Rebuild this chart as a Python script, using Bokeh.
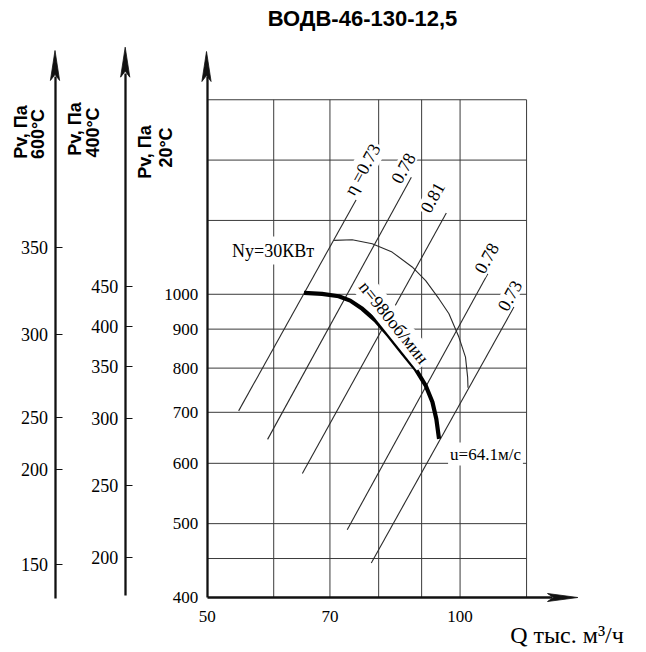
import math
from bokeh.plotting import figure
from bokeh.models import Range1d, LinearAxis, FixedTicker, Label
from bokeh.embed import file_html
from bokeh.resources import INLINE

# ---------------- data ----------------
title_text = "ВОДВ-46-130-12,5"
q_ticks = [50, 70, 100]
p_ticks = [400, 500, 600, 700, 800, 900, 1000]
grid_q = [60, 70, 80, 90, 100, 120]
grid_p = [450, 500, 600, 700, 800, 900, 1000, 1250, 1500, 1800]
q_min, q_max = 50, 120
p_min, p_max = 400, 1800

# pressure curve n = 980 rpm (Q thousand m3/h, Pv Pa at 20 C)
curve_q = [65.2, 68.5, 71.7, 74.0, 76.5, 79.3, 82.2, 85.3, 88.5, 91.0, 92.7, 93.7, 94.4]
curve_p = [1004, 1001, 994, 981, 957, 924, 883, 839, 798, 759, 722, 686, 646]

# power line Ny = 30 kW
power_q = [70.8, 74.4, 78.6, 83.0, 87.7, 91.0, 94.4, 97.0, 99.7, 101.5, 102.1, 102.2]
power_p = [1177, 1179, 1165, 1136, 1086, 1042, 986, 943, 878, 827, 778, 754]

# efficiency lines
eta_labels = ["η =0.73", "0.78", "0.81", "0.78", "0.73"]
eta_q_lo = [54.5, 59.0, 64.9, 73.4, 78.4]
eta_p_lo = [703, 645, 582, 491, 444]
eta_q_hi = [81.0, 87.5, 96.3, 107.9, 115.9]
eta_p_hi = [1541, 1424, 1278, 1064, 962]

# auxiliary temperature scales: label and the 20 C pressure where it sits
t600_labels = ["150", "200", "250", "300", "350"]
t600_at_p20 = [442, 589, 689, 886, 1152]
t400_labels = ["200", "250", "300", "350", "400", "450"]
t400_at_p20 = [451, 561, 687, 804, 908, 1024]

# ---------------- layout helpers ----------------
W, H = 646, 652
PX_DEC_Q = 840.0
PX_DEC_P = 762.0
Q0_X = 206.7
P0_Y = 597.0


def q_at(x):
    return 50 * 10 ** ((x - Q0_X) / PX_DEC_Q)


def p_at(y):
    return 400 * 10 ** ((P0_Y - y) / PX_DEC_P)


p = figure(width=W, height=H, x_axis_type="log", y_axis_type="log",
           x_range=Range1d(q_at(0), q_at(W)),
           y_range=Range1d(p_at(H), p_at(0)),
           x_axis_location=None, y_axis_location=None,
           toolbar_location=None, output_backend="svg", title=None,
           min_border=0, outline_line_color=None)
p.min_border_left = p.min_border_right = 0
p.min_border_top = p.min_border_bottom = 0
p.grid.visible = False

LINE = "#2a2a2a"

# grid
p.segment(x0=grid_q, y0=[p_min] * len(grid_q), x1=grid_q, y1=[p_max] * len(grid_q),
          line_color="#3a3a3a", line_width=1)
p.segment(x0=[q_min] * len(grid_p), y0=grid_p, x1=[q_max] * len(grid_p), y1=grid_p,
          line_color="#3a3a3a", line_width=1)

# efficiency lines
p.segment(x0=eta_q_lo, y0=eta_p_lo, x1=eta_q_hi, y1=eta_p_hi,
          line_color=LINE, line_width=1.1)

# power line and pressure curve
p.line(power_q, power_p, line_color=LINE, line_width=1.1, line_join="round")
p.line(curve_q, curve_p, line_color="black", line_width=4.2, line_join="round")


def make_axis(loc, bounds, ticks, size, standoff, tick_in=0, overrides=None, below=False):
    ax = LinearAxis(fixed_location=loc, bounds=bounds, ticker=FixedTicker(ticks=ticks, minor_ticks=[]),
                    axis_line_width=2.3, axis_line_color="#111",
                    major_tick_in=tick_in, major_tick_out=0, minor_tick_in=0, minor_tick_out=0,
                    major_tick_line_width=1.2, major_tick_line_color="#111",
                    major_label_standoff=standoff,
                    major_label_text_font="Liberation Serif",
                    major_label_text_font_size=f"{size}px",
                    major_label_text_color="black")
    if overrides:
        ax.major_label_overrides = overrides
    p.add_layout(ax, "below" if below else "left")
    return ax


# main axes
make_axis(p_min, (q_min, q_at(552)), q_ticks, 17, 13, below=True)
make_axis(q_min, (p_min, p_at(76)), p_ticks, 17, 9)
# auxiliary temperature axes
make_axis(q_at(54.5), (p_at(598), p_at(76)), t600_at_p20, 18, 7, tick_in=7,
          overrides=dict(zip(t600_at_p20, t600_labels)))
make_axis(q_at(124.7), (p_at(595), p_at(73)), t400_at_p20, 18, 7, tick_in=7,
          overrides=dict(zip(t400_at_p20, t400_labels)))

# arrow heads
heads_x, heads_y = [], []
for xa, tip in [(54.5, 50), (124.7, 46.7), (206.0, 51)]:
    heads_x.append([q_at(xa - 4.6), q_at(xa), q_at(xa + 4.6), q_at(xa)])
    heads_y.append([p_at(tip + 30), p_at(tip), p_at(tip + 30), p_at(tip + 24)])
heads_x.append([q_at(547), q_at(577.3), q_at(547), q_at(553)])
heads_y.append([p_at(593), p_at(597), p_at(601), p_at(597)])
p.patches(heads_x, heads_y, fill_color="#111", line_color="#111", line_width=0.8)


def add_text(text, x, y, size, font="Liberation Serif", bold=False, angle=0.0,
             align="center", bg=False, pad=0):
    lab = Label(x=q_at(x), y=p_at(y), text=text, text_font=font,
                text_font_size=f"{size}px", text_font_style="bold" if bold else "normal",
                text_align=align, text_baseline="middle", angle=angle, text_color="black")
    if bg:
        lab.background_fill_color = "white"
        lab.padding = pad
    p.add_layout(lab)


# title
add_text(title_text, 362, 18, 22, font="Liberation Sans", bold=True)

# axis titles
v = math.pi / 2
add_text("Pv, Па", 20, 131.5, 18, font="Liberation Sans", bold=True, angle=v)
add_text("600°C", 37, 133.5, 18, font="Liberation Sans", bold=True, angle=v)
add_text("Pv, Па", 74.5, 128.5, 18, font="Liberation Sans", bold=True, angle=v)
add_text("400°C", 92.5, 132, 18, font="Liberation Sans", bold=True, angle=v)
add_text("Pv, Па", 144.5, 151.5, 18, font="Liberation Sans", bold=True, angle=v)
add_text("20°C", 165, 147, 18, font="Liberation Sans", bold=True, angle=v)

add_text("Q тыс. м³/ч", 566.5, 634, 24)

# in-plot labels
eta_angle = math.atan(1.806)
eta_pos = [(362, 169), (402.5, 167.5), (431.7, 196.7), (485.8, 257.5), (509, 295)]
for lab, (x, y) in zip(eta_labels, eta_pos):
    add_text(lab, x, y, 18, angle=eta_angle, bg=True, pad=2)

add_text("Ny=30КВт", 272.5, 250, 18, bg=True, pad=4)
add_text("n=980об/мин", 393.3, 322, 18, angle=-0.897, bg=True, pad=2)
add_text("u=64.1м/с", 485, 453.5, 17, bg=True, pad=2)

open("out.html", "w").write(file_html(p, INLINE))
